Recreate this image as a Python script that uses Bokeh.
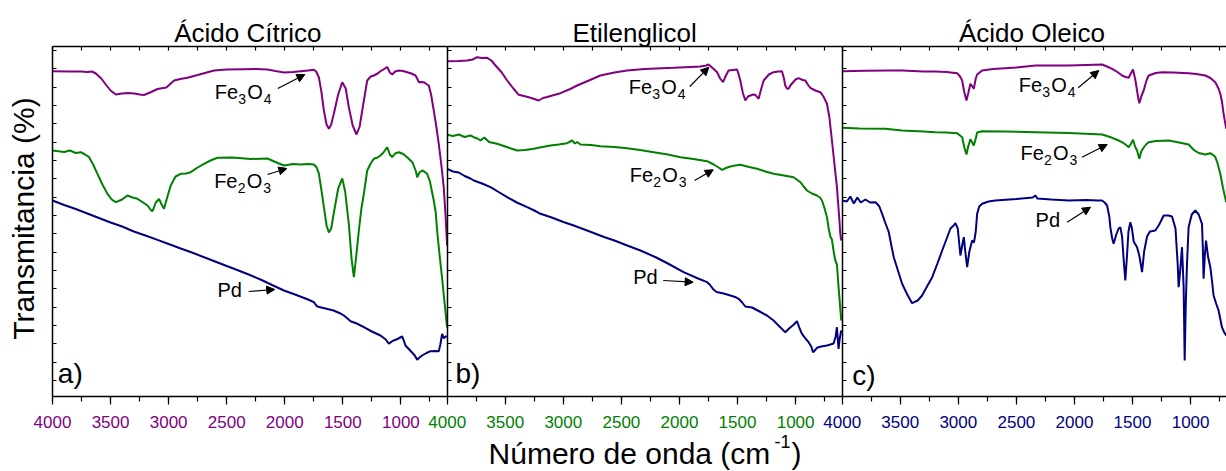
import math
from bokeh.plotting import figure
from bokeh.models import (Range1d, LinearAxis, SingleIntervalTicker, FixedTicker,
                          Arrow, NormalHead, CustomJSTickFormatter)
from bokeh.core.properties import value
from bokeh.embed import file_html
from bokeh.resources import INLINE

FONT = "Liberation Sans"
PURPLE = "#800080"
GREEN = "#008000"
NAVY = "#000080"

# ---------------- data (wavenumber cm-1, transmittance arb. units) ----------------
a_fe3o4_w = [4000, 3850, 3756, 3699, 3660, 3627, 3580, 3541, 3500, 3455, 3400, 3350, 3297, 3250, 3211,
             3150, 3096, 3020, 2953, 2900, 2838, 2750, 2609, 2500, 2350, 2250, 2150, 2080, 2007, 1930,
             1863, 1800, 1749, 1730, 1706, 1685, 1663, 1640, 1620, 1600, 1577, 1540, 1505, 1475, 1448,
             1415, 1382, 1355, 1333, 1310, 1290, 1260, 1233, 1200, 1176, 1150, 1118, 1095, 1075, 1050,
             1018, 980, 946, 910, 874, 860, 846, 825, 803, 780, 760, 740, 717, 695, 674, 652, 631, 615, 602]
a_fe3o4_t = [325.3, 325, 325, 324.5, 325, 323, 318, 312, 306, 302, 303, 303.5, 303, 302, 301.5,
             304.5, 307.5, 309, 316, 317.5, 318.7, 321.5, 326, 327, 327.3, 327.5, 327, 325.5, 324, 324.5,
             325.3, 326, 326.7, 325, 319, 305, 286, 272, 267.7, 272, 283, 302, 314.3, 308, 289,
             271, 262, 270, 286, 302, 316, 320, 321, 323, 325.3, 327, 329.5, 324, 322, 325,
             326, 325.5, 324.3, 323, 321, 318, 314.3, 314.5, 314.3, 312.5, 311, 302, 286, 270, 252.7, 232, 209.3, 180, 151]

a_fe2o3_w = [4000, 3900, 3850, 3800, 3756, 3720, 3685, 3650, 3613, 3570, 3527, 3490, 3455, 3400, 3355,
             3310, 3268, 3220, 3182, 3150, 3139, 3110, 3083, 3060, 3040, 3010, 2982, 2940, 2896, 2850,
             2810, 2750, 2695, 2640, 2580, 2450, 2293, 2150, 2050, 2007, 1930, 1863, 1800, 1749, 1725,
             1706, 1685, 1663, 1640, 1620, 1600, 1577, 1540, 1505, 1480, 1448, 1425, 1405, 1385, 1362,
             1340, 1319, 1290, 1260, 1233, 1200, 1176, 1150, 1118, 1095, 1075, 1050, 1018, 980, 946,
             900, 870, 860, 840, 817, 800, 774, 750, 717, 700, 688, 670, 645, 625, 602]
a_fe2o3_t = [246, 244.5, 246, 243.5, 244.3, 242, 239.3, 232, 222.7, 212, 202.7, 197, 194.3, 197, 201,
             199, 197.7, 194, 191, 186, 185.3, 194, 197.7, 192, 187.7, 200, 211, 220, 222.7, 223,
             224.3, 229, 232.7, 236, 238.7, 239, 237.5, 238, 233, 231, 232.5, 232, 232.5, 232, 229,
             222.7, 207, 189.3, 171, 164, 168, 184, 208, 218, 205, 172, 138, 119.3, 140, 166,
             188, 202.7, 226, 233, 237.7, 239, 241, 244, 249.3, 242, 239.3, 243, 244.3, 242.5, 239.3,
             234, 225, 219.3, 224, 226, 225, 222.7, 215, 196, 184, 166, 145, 118, 95, 69]

a_pd_w = [4000, 3900, 3800, 3700, 3600, 3500, 3400, 3300, 3200, 3096, 3000, 2896, 2800, 2700, 2600,
          2500, 2437, 2300, 2200, 2100, 2007, 1900, 1800, 1749, 1735, 1720, 1650, 1580, 1520, 1491,
          1460, 1433, 1380, 1319, 1250, 1176, 1130, 1104, 1075, 1030, 989, 975, 961, 920, 880,
          860, 840, 817, 780, 745, 700, 674, 660, 645, 630, 617, 602]
a_pd_t = [196, 191.5, 187.5, 183, 178.5, 174, 170, 165, 161, 156.6, 152.5, 148, 144, 139.5, 135,
          130.5, 127.7, 121.5, 116.5, 111, 106, 101.5, 97, 94.3, 92, 90, 88, 86, 83, 81,
          78, 75.3, 73, 69.3, 65, 61, 57, 52.7, 55.3, 57.5, 60, 56, 51, 46, 41,
          36.7, 39, 41, 43.5, 45.3, 45.5, 45.3, 52, 62.7, 58, 60, 60]

b_fe3o4_w = [4000, 3900, 3828, 3780, 3742, 3700, 3656, 3620, 3584, 3530, 3484, 3430, 3384, 3340, 3298,
             3250, 3212, 3175, 3139, 3080, 3025, 2950, 2881, 2780, 2681, 2560, 2451, 2300, 2150, 2050,
             1950, 1820, 1770, 1749, 1710, 1676, 1650, 1625, 1600, 1577, 1540, 1504, 1490, 1476, 1455,
             1433, 1410, 1390, 1365, 1347, 1318, 1300, 1275, 1230, 1189, 1150, 1117, 1100, 1089, 1075,
             1060, 1045, 1031, 1000, 974, 940, 916, 895, 873, 830, 787, 760, 730, 710, 687, 665, 644,
             625, 615, 607]
b_fe3o4_t = [335.3, 335.5, 336, 337, 339.3, 338.5, 338.7, 336, 331, 324, 316, 308, 301.7, 300.5, 299.3,
             297.5, 296, 298.5, 299.5, 301.5, 303.3, 307, 311, 316, 321, 324, 326, 327.5, 328.3, 328.7,
             329.3, 330, 331, 332, 328, 324.3, 318, 314.3, 321, 326, 326.5, 327, 322, 316, 304,
             296, 300, 301, 302, 301.7, 297.7, 306, 316, 322, 324.3, 325, 325.3, 318, 311, 308,
             307.7, 311, 313, 317, 318.3, 316.5, 316, 312, 308.7, 306, 304.3, 300, 292.7, 280, 256, 232, 209.3,
             180, 162.7, 156]

b_fe2o3_w = [4000, 3950, 3900, 3850, 3800, 3771, 3740, 3713, 3680, 3640, 3570, 3500, 3450, 3398, 3330,
             3255, 3180, 3111, 3040, 2967, 2940, 2924, 2900, 2880, 2853, 2760, 2681, 2560, 2451, 2340,
             2222, 2100, 1992, 1880, 1762, 1705, 1670, 1633, 1600, 1562, 1520, 1476, 1400, 1332, 1260,
             1189, 1100, 1017, 990, 959, 930, 902, 860, 816, 790, 773, 750, 730, 715, 701, 687, 672,
             658, 644, 630, 620, 607]
b_fe2o3_t = [261.7, 260.5, 262, 259.5, 261, 259.3, 258, 256, 259, 254.5, 252.7, 250, 248, 246, 246.5,
             247.7, 249.5, 251, 252, 253.3, 255, 256, 253, 254.5, 252, 251.5, 250.3, 249.5, 248.3, 246.5,
             244.3, 242, 239.3, 237.5, 235.3, 232, 229.5, 226.7, 228.5, 230, 231, 231.7, 229.5, 227.7, 225,
             222.7, 221, 219.3, 217, 214.3, 210, 206, 203, 201, 199, 196, 188, 179.3, 168, 160, 157, 145,
             136, 132, 109.3, 95, 76]

b_pd_w = [4000, 3950, 3900, 3850, 3800, 3771, 3700, 3627, 3550, 3484, 3400, 3312, 3250, 3197, 3100,
          3000, 2910, 2853, 2750, 2650, 2566, 2450, 2336, 2200, 2100, 1964, 1850, 1762, 1740, 1705,
          1680, 1620, 1562, 1520, 1490, 1460, 1433, 1375, 1310, 1246, 1190, 1132, 1089, 1060, 1046,
          1015, 988, 965, 945, 915, 888, 865, 850, 835, 816, 780, 730, 700, 673, 655, 644, 637, 630,
          620, 607]
b_pd_t = [227.7, 225, 224, 220.5, 218, 216, 213, 209.3, 204, 199.3, 194, 189.3, 186, 182.7, 179,
          174.5, 171, 168.5, 164, 159.5, 156.2, 151, 146, 139, 133, 124.3, 118.5, 114.3, 112, 106.7,
          104.5, 103, 101, 99.5, 97.7, 94, 90, 89, 85, 81, 76, 69.3, 64.3, 67.5, 69,
          72, 75.3, 68, 62.7, 58, 54.3, 50, 44.3, 46, 48.7, 50, 51, 52, 53, 60, 69.3, 58, 47.7,
          58, 66]

c_fe3o4_w = [4000, 3800, 3600, 3484, 3300, 3197, 3100, 3010, 2985, 2967, 2950, 2930, 2915, 2896, 2880,
             2867, 2850, 2838, 2795, 2700, 2500, 2336, 2200, 2050, 1900, 1762, 1720, 1676, 1630, 1590,
             1560, 1533, 1510, 1496, 1478, 1461, 1450, 1441, 1425, 1404, 1380, 1361, 1300, 1246, 1150,
             1017, 950, 873, 830, 787, 760, 744, 730, 716, 693]
c_fe3o4_t = [325.3, 325.8, 326, 326, 325, 325, 324.5, 323.3, 320, 316, 305, 296, 303, 312.7, 310,
             307.7, 318, 322, 326, 327.5, 329, 331, 331, 331, 331.5, 332, 330, 327.7, 324.5, 321,
             319.5, 318.7, 324, 327, 318, 306, 298, 293.3, 300, 306, 316, 321, 323.5, 324.3, 324,
             323.3, 322.5, 321, 318.5, 314.3, 308, 302.7, 295, 282.7, 267.7]

c_fe2o3_w = [4000, 3850, 3628, 3484, 3300, 3197, 3100, 3010, 2985, 2967, 2950, 2930, 2915, 2896, 2880,
             2867, 2850, 2838, 2795, 2600, 2336, 2050, 1762, 1720, 1676, 1630, 1590, 1560, 1533, 1510,
             1496, 1478, 1461, 1441, 1425, 1404, 1380, 1361, 1300, 1189, 1100, 1017, 974, 930, 873,
             830, 800, 787, 770, 744, 720, 693]
c_fe2o3_t = [268.7, 268, 267.7, 266, 265, 264.3, 264, 263.3, 261, 259.3, 250, 242, 250, 257.3, 254,
             251, 258, 264, 265.3, 265, 264.3, 263.5, 262, 260.5, 258.7, 256.5, 254.3, 252, 249.3, 253.5,
             256.7, 250, 246, 237.7, 245, 249, 252.5, 254.3, 255.5, 256, 254, 252, 246.7, 243.5, 242,
             243.3, 241, 239.3, 234, 222.7, 208, 194.3]

c_pd_w = [4000, 3960, 3930, 3900, 3870, 3840, 3800, 3760, 3713, 3680, 3656, 3630, 3599, 3575, 3556,
          3520, 3484, 3440, 3398, 3350, 3312, 3270, 3225, 3180, 3139, 3100, 3068, 3040, 3025, 3005,
          2982, 2965, 2953, 2940, 2924, 2905, 2881, 2865, 2850, 2838, 2820, 2795, 2740, 2681, 2500,
          2360, 2336, 2320, 2200, 2050, 1900, 1800, 1762, 1740, 1719, 1700, 1691, 1675, 1663, 1640,
          1620, 1605, 1590, 1575, 1562, 1548, 1535, 1519, 1505, 1490, 1461, 1440, 1418, 1400, 1375,
          1350, 1304, 1270, 1232, 1190, 1160, 1130, 1110, 1103, 1090, 1074, 1060, 1051, 1042, 1031,
          1017, 990, 960, 930, 902, 895, 888, 878, 867, 850, 830, 815, 802, 780, 759, 745, 730, 710, 693]
c_pd_t = [196, 195, 200, 193, 199, 194, 197, 194, 194.3, 190, 182.7, 174, 164.5, 150, 139.3,
          126, 112.7, 102, 93.3, 96, 101, 110, 119.3, 133, 146, 158, 168, 171, 173.3, 168,
          141, 152, 159.3, 145, 129.3, 145, 156, 154, 165, 182.7, 190, 192.7, 195, 196, 197.5,
          199, 201, 198, 197, 196, 196.5, 196, 196, 194, 191, 180, 169.3, 158, 152.7, 162,
          168, 169.3, 160, 135, 116, 140, 165, 174.3, 168, 155, 149.3, 140, 124.3, 145, 160,
          165, 166, 172, 181, 181, 180, 168, 130, 109.3, 125, 149.3, 110, 36, 90, 132.7,
          169.3, 182, 186, 182, 172.7, 150, 117.7, 140, 156, 140, 129.3, 115, 101, 93, 86, 78, 69.3, 64, 61]

titles = ["Ácido Cítrico", "Etilenglicol", "Ácido Oleico"]
panel_tags = ["a)", "b)", "c)"]
species = ["Fe3O4", "Fe2O3", "Pd"]
y_label = "Transmitancia (%)"
x_label = "Número de onda (cm"
x_label_sup = "-1"

# ---------------- layout constants ----------------
W, H = 1226, 471
PX0 = 52            # pixel column of panel a's 4000 cm-1
TOP_PX = 46         # pixel row of the data frame top
V_TOP = 350         # data value at the frame top (1 unit = 1 px)
UPP = 8.611         # wavenumber units per pixel
panel_off = {"a": 0.0, "b": 394.7, "c": 789.7}   # px from panel a's 4000 to each panel's 4000
panel_end = {"a": 601, "b": 599, "c": 691}
panel_col = {"a": PURPLE, "b": GREEN, "c": NAVY}
rname = {"a": "default", "b": "b", "c": "c"}
Y_START = V_TOP + TOP_PX - H     # canvas bottom in data units
Y_END = V_TOP + TOP_PX           # canvas top in data units
SHIFT = 0.35                     # baseline correction (fraction of font size)


def rng(off):
    left = PX0 + off
    return Range1d(4000 + left * UPP, 4000 - (W - left) * UPP)


p = figure(width=W, height=H, x_range=rng(0), y_range=Range1d(Y_START, Y_END),
           x_axis_type=None, y_axis_type=None, output_backend="svg", toolbar_location=None,
           min_border=0, min_border_left=0, min_border_right=0, min_border_top=0, min_border_bottom=0,
           outline_line_color=None, background_fill_color="white", border_fill_color="white")
p.extra_x_ranges = {"b": rng(panel_off["b"]), "c": rng(panel_off["c"])}
p.grid.visible = False

blank = CustomJSTickFormatter(code="return ''")
ytick = [16 + 18.333 * k for k in range(19)]

for key in ["a", "b", "c"]:
    nm = rname[key]
    col = panel_col[key]
    bot = LinearAxis(x_range_name=nm, fixed_location=0, bounds=(panel_end[key], 4000),
                     ticker=SingleIntervalTicker(interval=500, num_minor_ticks=2),
                     major_tick_in=0, major_tick_out=8, minor_tick_in=0, minor_tick_out=5,
                     major_label_standoff=11, major_label_text_color=col,
                     major_label_text_font=FONT, major_label_text_font_size="17px",
                     axis_line_width=1.5, major_tick_line_width=1.2, minor_tick_line_width=1.2)
    p.add_layout(bot, "below")
    top = LinearAxis(x_range_name=nm, fixed_location=V_TOP, bounds=(panel_end[key], 4000),
                     ticker=SingleIntervalTicker(interval=250, num_minor_ticks=0),
                     formatter=blank, major_tick_in=4, major_tick_out=0, minor_tick_in=0,
                     minor_tick_out=0, major_label_standoff=0, axis_line_width=1.5,
                     major_tick_line_width=1.2)
    p.add_layout(top, "above")
    yax = LinearAxis(x_range_name=nm, fixed_location=4000, bounds=(0, V_TOP),
                     ticker=FixedTicker(ticks=ytick),
                     formatter=blank, major_tick_in=4, major_tick_out=0, minor_tick_in=0,
                     minor_tick_out=0, major_label_standoff=0, axis_line_width=1.5)
    p.add_layout(yax, "left")

series = {
    "a": [(a_fe3o4_w, a_fe3o4_t, PURPLE), (a_fe2o3_w, a_fe2o3_t, GREEN), (a_pd_w, a_pd_t, NAVY)],
    "b": [(b_fe3o4_w, b_fe3o4_t, PURPLE), (b_fe2o3_w, b_fe2o3_t, GREEN), (b_pd_w, b_pd_t, NAVY)],
    "c": [(c_fe3o4_w, c_fe3o4_t, PURPLE), (c_fe2o3_w, c_fe2o3_t, GREEN), (c_pd_w, c_pd_t, NAVY)],
}
for key, lst in series.items():
    for xs, ys, col in lst:
        p.line(xs, ys, x_range_name=rname[key], line_color=col, line_width=2)


def txt(x, y, t, size, nm="default", align="left", xo=0.0, yo=0.0, angle=0.0, baseline="alphabetic"):
    n = len(t)
    xs = x if isinstance(x, list) else [x] * n
    ys = y if isinstance(y, list) else [y] * n
    xos = xo if isinstance(xo, list) else [xo] * n
    yos = yo if isinstance(yo, list) else [yo] * n
    corr = -SHIFT * size if baseline == "alphabetic" else 0.0
    p.text(x=xs, y=ys, text=t, x_offset=xos, y_offset=[v + corr for v in yos], angle=angle,
           x_range_name=nm, text_font=value(FONT), text_font_size=f"{size}px",
           text_baseline=baseline, text_align=align, text_color="black")


# annotation anchors (data coords): label text anchor, arrow tail, arrow tip
ann = {
    "a": {"Fe3O4": ((2602, 298), (2060, 308), (1827, 322)),
          "Fe2O3": ((2608, 209), (2149, 222), (1982, 228)),
          "Pd": ((2579, 100), (2310, 105), (2086, 107))},
    "b": {"Fe3O4": ((2436, 302.7), (1911, 310), (1747, 329.3)),
          "Fe2O3": ((2428, 214.3), (1870, 216), (1709, 226.7)),
          "Pd": ((2398, 112.7), (2140, 116), (1882, 114.3))},
    "c": {"Fe3O4": ((2479, 304.3), (1968, 308.7), (1790, 326)),
          "Fe2O3": ((2465, 236.7), (1936, 239.3), (1718, 252)),
          "Pd": ((2335, 169.3), (2063, 174.3), (1862, 189.3))},
}
tag_pos = {"a": (3954, 13), "b": (3929, 13.3), "c": (3914, 11)}
title_pos = {"a": 2318, "b": 2387, "c": 2366}

for i, key in enumerate(["a", "b", "c"]):
    nm = rname[key]
    for sp in species:
        (tx, ty), (ax0, ay0), (ax1, ay1) = ann[key][sp]
        if sp == "Pd":
            txt(tx, ty, ["Pd"], 20, nm)
        else:
            txt(tx, ty, ["Fe", "O"], 20, nm, xo=[0, 32.5])
            txt(tx, ty, [sp[2], sp[4]], 14, nm, xo=[23.5, 49], yo=7 - SHIFT * 20 + SHIFT * 14)
        p.add_layout(Arrow(x_start=ax0, y_start=ay0, x_end=ax1, y_end=ay1, x_range_name=nm,
                           line_color="black", line_width=1.2,
                           end=NormalHead(size=8, fill_color="black", line_color="black")))
    gx, gy = tag_pos[key]
    txt(gx, gy, [panel_tags[i]], 28, nm)
    txt(title_pos[key], 354.3, [titles[i]], 26, nm, align="center")

# y-axis label (rotated)
txt(4000 + 29 * UPP, 178, [y_label], 30, angle=math.pi / 2, align="center", baseline="middle")

# x-axis label (with superscript)
xl_x, xl_y = 3644, -67
txt(xl_x, xl_y, [x_label], 30, "b")
txt(xl_x, xl_y, [x_label_sup], 18, "b", xo=286, yo=-12 - SHIFT * 30 + SHIFT * 18)
txt(xl_x, xl_y, [")"], 30, "b", xo=303)

open("out.html", "w").write(file_html(p, INLINE))
